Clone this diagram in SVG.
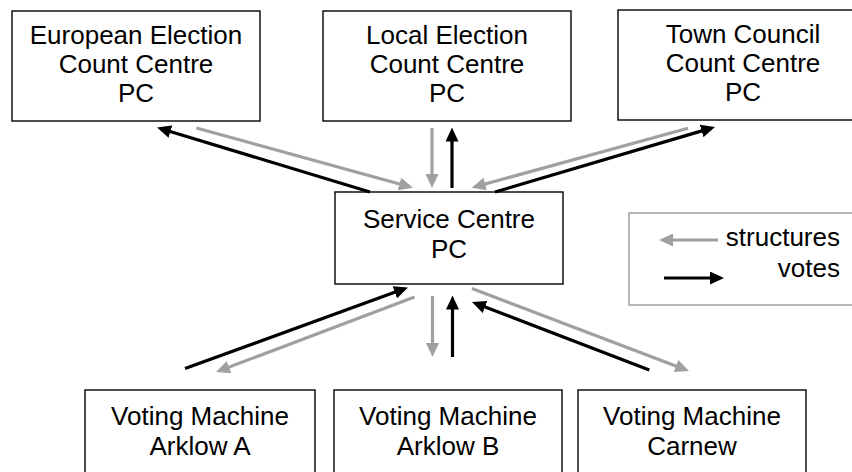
<svg xmlns="http://www.w3.org/2000/svg" width="852" height="472" viewBox="0 0 852 472">
<style>
.box{fill:#fff;stroke:#000;stroke-width:1.4}
.t{font-family:"Liberation Sans",Arial,sans-serif;font-size:26px;fill:#000;text-anchor:middle}
.k{stroke:#000;stroke-width:3.2;fill:none}
.g{stroke:#a0a0a0;stroke-width:3.2;fill:none}
.k{marker-end:url(#ak)}
.g{marker-end:url(#ag)}
</style>
<defs>
<marker id="ak" viewBox="0 0 14 13" markerWidth="14" markerHeight="13" refX="2" refY="6.5" orient="auto" markerUnits="userSpaceOnUse"><path d="M0,0 L14,6.5 L0,13 z" fill="#000"/></marker>
<marker id="ag" viewBox="0 0 14 13" markerWidth="14" markerHeight="13" refX="2" refY="6.5" orient="auto" markerUnits="userSpaceOnUse"><path d="M0,0 L14,6.5 L0,13 z" fill="#a0a0a0"/></marker>
</defs>
<rect width="852" height="472" fill="#fff"/>
<g id="european">
<rect class="box" x="12" y="11" width="248" height="110"/>
<text class="t" x="136" y="44">European Election</text>
<text class="t" x="136" y="73">Count Centre</text>
<text class="t" x="136" y="102">PC</text>
</g>
<g id="local">
<rect class="box" x="323" y="11" width="248" height="110"/>
<text class="t" x="447" y="44">Local Election</text>
<text class="t" x="447" y="73">Count Centre</text>
<text class="t" x="447" y="102">PC</text>
</g>
<g id="town">
<rect class="box" x="618" y="10" width="250" height="110"/>
<text class="t" x="743" y="43">Town Council</text>
<text class="t" x="743" y="72">Count Centre</text>
<text class="t" x="743" y="101">PC</text>
</g>
<g id="service">
<rect class="box" x="335" y="192" width="228" height="92"/>
<text class="t" x="449" y="228">Service Centre</text>
<text class="t" x="449" y="258">PC</text>
</g>
<g id="arklowA">
<rect class="box" x="85" y="390" width="230" height="100"/>
<text class="t" x="200" y="425">Voting Machine</text>
<text class="t" x="200" y="455">Arklow A</text>
</g>
<g id="arklowB">
<rect class="box" x="334" y="390" width="228" height="100"/>
<text class="t" x="448" y="425">Voting Machine</text>
<text class="t" x="448" y="455">Arklow B</text>
</g>
<g id="carnew">
<rect class="box" x="578" y="390" width="228" height="100"/>
<text class="t" x="692" y="425">Voting Machine</text>
<text class="t" x="692" y="455">Carnew</text>
</g>
<g id="legend">
<rect x="629" y="213" width="240" height="92" fill="#fff" stroke="#a0a0a0" stroke-width="1.5"/>
<line class="g" x1="718" y1="240" x2="671" y2="240"/>
<line class="k" x1="664" y1="278" x2="712" y2="278"/>
<text class="t" x="840" y="246" style="text-anchor:end">structures</text>
<text class="t" x="840" y="277" style="text-anchor:end">votes</text>
</g>
<g id="connectors">
<line class="k" x1="370" y1="192" x2="168.5" y2="131"/>
<line class="g" x1="196.5" y1="128" x2="401.4" y2="184.5"/>
<line class="g" x1="432" y1="128" x2="432" y2="176"/>
<line class="k" x1="452" y1="188" x2="452" y2="139.5"/>
<line class="g" x1="688" y1="128.3" x2="483.3" y2="184.5"/>
<line class="k" x1="495" y1="192" x2="703.5" y2="130.4"/>
<line class="k" x1="185" y1="368.6" x2="396.7" y2="291.6"/>
<line class="g" x1="414.5" y1="297" x2="227.2" y2="367.8"/>
<line class="g" x1="432.5" y1="296" x2="432.5" y2="345"/>
<line class="k" x1="452.5" y1="357" x2="452.5" y2="307.5"/>
<line class="k" x1="649.3" y1="370" x2="483.2" y2="306.3"/>
<line class="g" x1="472" y1="288.5" x2="677.8" y2="366.7"/>
</g>
</svg>
